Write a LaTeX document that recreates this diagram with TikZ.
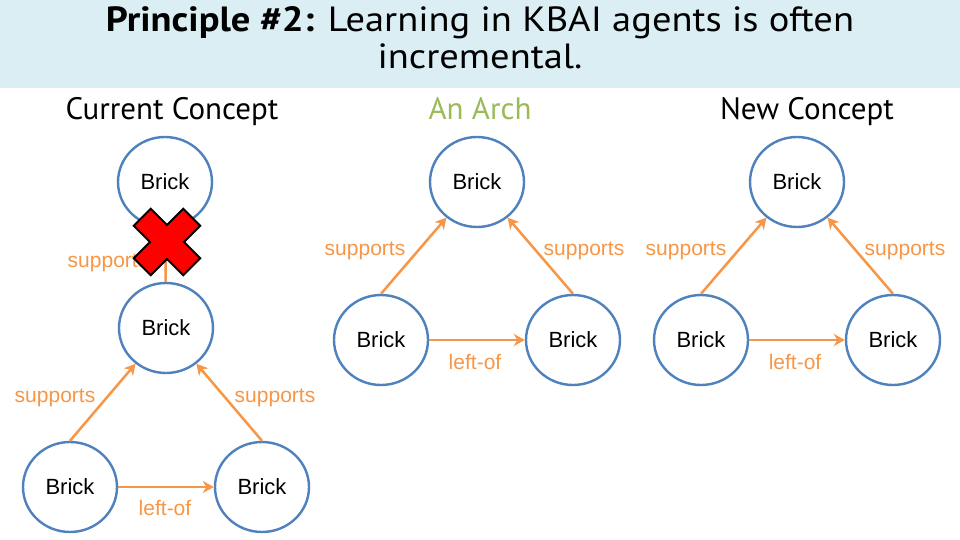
\documentclass[tikz,border=0pt]{standalone}
\usepackage{fontspec}
\setmainfont{Liberation Sans}
\newfontfamily\handfont{PT Sans}
\usetikzlibrary{shapes.geometric,arrows.meta}
\definecolor{bandblue}{HTML}{DAEEF3}
\definecolor{brickblue}{HTML}{4F81BD}
\definecolor{relorange}{HTML}{F79646}
\definecolor{archgreen}{HTML}{9BBB59}
\definecolor{xred}{HTML}{FF0000}
\tikzset{
  brick/.style={ellipse, draw=brickblue, line width=2.4pt, fill=white,
    minimum width=94pt, minimum height=90pt, inner sep=0pt,
    font=\fontsize{22}{24}\selectfont},
  rel/.style={draw=relorange, line width=2.5pt,
    -{Stealth[length=11pt,width=12pt,inset=3.5pt]}},
  rellabel/.style={text=relorange, anchor=base, inner sep=0pt,
    font=\fontsize{21}{24}\selectfont},
  colhead/.style={anchor=base, inner sep=0pt, font=\handfont\fontsize{31}{34}\selectfont},
  titletext/.style={anchor=base, inner sep=0pt, font=\handfont\fontsize{35}{38}\selectfont},
}
\begin{document}
\begin{tikzpicture}[x=1pt,y=-1pt]
\useasboundingbox (0,0) rectangle (960,540);
\fill[white] (0,0) rectangle (960,540);
\fill[bandblue] (0,0) rectangle (960,88);
\node[titletext] (title1) at (480,32)
  {\scalebox{1.1}[1]{\textbf{Principle \#2:} Learning in KBAI agents is often}};
\node[titletext] (title2) at (480,69)
  {\scalebox{1.1}[1]{incremental.}};
% column headers
\node[colhead] (h1) at (172,120) {Current Concept};
\node[colhead, text=archgreen] (h2) at (480,120) {An Arch};
\node[colhead] (h3) at (807,120) {New Concept};

% ---- Current concept ----
\node[brick] (ctop) at (165,182) {Brick};
\node[brick] (cmid) at (166,328) {Brick};
\node[brick] (cbl) at (70,487) {Brick};
\node[brick] (cbr) at (262,487) {Brick};
\draw[rel] (cmid) -- (ctop);
\draw[rel] (cbl.north) -- (cmid);
\draw[rel] (cbr.north) -- (cmid);
\draw[rel] (cbl) -- (cbr);
\node[rellabel] (cl0) at (108,267) {supports};
\node[rellabel] (cl1) at (55,402) {supports};
\node[rellabel] (cl2) at (275,402) {supports};
\node[rellabel] (cl3) at (165,515) {left-of};
% red cross
\begin{scope}[shift={(167,242)}, rotate=45]
\draw[fill=xred, draw=black, line width=2pt, line join=miter]
  (-12,-35) -- (12,-35) -- (12,-12) -- (35,-12) -- (35,12) -- (12,12) --
  (12,35) -- (-12,35) -- (-12,12) -- (-35,12) -- (-35,-12) -- (-12,-12) -- cycle;
\end{scope}

% ---- An Arch ----
\node[brick] (atop) at (477,182) {Brick};
\node[brick] (abl) at (381,340) {Brick};
\node[brick] (abr) at (573,340) {Brick};
\draw[rel] (abl.north) -- (atop);
\draw[rel] (abr.north) -- (atop);
\draw[rel] (abl) -- (abr);
\node[rellabel] (al1) at (365,255) {supports};
\node[rellabel] (al2) at (584,255) {supports};
\node[rellabel] (al3) at (475,369) {left-of};

% ---- New concept ----
\node[brick] (ntop) at (797,182) {Brick};
\node[brick] (nbl) at (701,340) {Brick};
\node[brick] (nbr) at (893,340) {Brick};
\draw[rel] (nbl.north) -- (ntop);
\draw[rel] (nbr.north) -- (ntop);
\draw[rel] (nbl) -- (nbr);
\node[rellabel] (nl1) at (686,255) {supports};
\node[rellabel] (nl2) at (905,255) {supports};
\node[rellabel] (nl3) at (795,369) {left-of};
\end{tikzpicture}
\end{document}
